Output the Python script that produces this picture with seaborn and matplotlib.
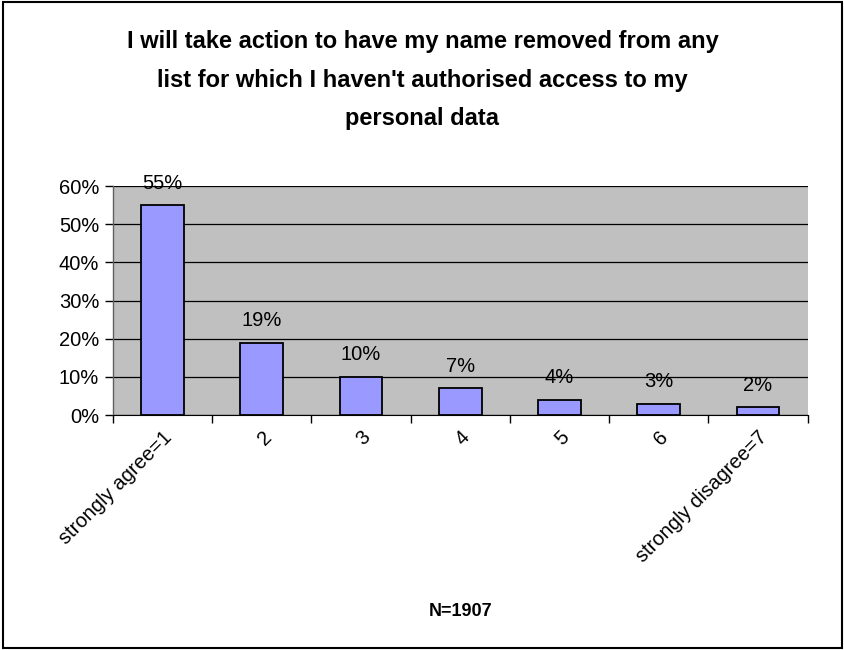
import matplotlib
matplotlib.use("Agg")
import matplotlib.pyplot as plt
import seaborn as sns
import pandas as pd
from matplotlib.patches import Rectangle
from matplotlib.ticker import FuncFormatter, MultipleLocator

categories = ["strongly agree=1", "2", "3", "4", "5", "6", "strongly disagree=7"]
shares = [55, 19, 10, 7, 4, 3, 2]
value_labels = ["55%", "19%", "10%", "7%", "4%", "3%", "2%"]

title = "I will take action to have my name removed from any\nlist for which I haven't authorised access to my\npersonal data"
xlabel = "N=1907"

sns.set_style("white")
plt.rcParams["font.family"] = ["Liberation Sans", "DejaVu Sans"]
for key in ["text.color", "axes.labelcolor", "xtick.color", "ytick.color"]:
    plt.rcParams[key] = "black"

df = pd.DataFrame({"category": categories, "share": shares})

fig = plt.figure(figsize=(8.45, 6.5), dpi=100)
ax = fig.add_axes([0.1337, 0.3615, 0.822, 0.3523])
ax.set_facecolor("#C0C0C0")

sns.barplot(data=df, x="category", y="share", color="#9999FF", width=0.43,
            edgecolor="black", linewidth=1.3, saturation=1, ax=ax, zorder=3)

ax.set_ylim(0, 60)
ax.set_xlim(-0.5, len(categories) - 0.5)
ax.yaxis.set_major_locator(MultipleLocator(10))
ax.yaxis.set_major_formatter(FuncFormatter(lambda v, p: f"{int(round(v))}%"))
ax.grid(axis="y", color="black", linewidth=0.9, zorder=1)
ax.set_axisbelow(True)

for side in ["top", "right"]:
    ax.spines[side].set_visible(False)
ax.spines["left"].set_color("#606060")
ax.spines["bottom"].set_color("black")
ax.spines["left"].set_linewidth(1.0)

# value labels above each bar
for i, (v, lab) in enumerate(zip(shares, value_labels)):
    ax.annotate(lab, (i, v), xytext=(0, 9), textcoords="offset points",
                ha="center", va="bottom", fontsize=14.5)

# x ticks sit on category boundaries; labels sit under category centres
ax.set_xticks([i - 0.5 for i in range(len(categories) + 1)], minor=False)
ax.set_xticklabels([])
ax.tick_params(axis="x", which="major", direction="out", length=6, width=1, color="black", bottom=True)
ax.set_xticks(range(len(categories)), minor=True)
ax.set_xticklabels(categories, minor=True, rotation=45, ha="right",
                   rotation_mode="anchor", fontsize=14.5)
ax.tick_params(axis="x", which="minor", length=0, pad=9)
ax.tick_params(axis="y", direction="out", length=6, width=1, color="black", left=True, labelsize=14.5, pad=4)

ax.set_xlabel(xlabel, fontsize=13, fontweight="bold")
ax.xaxis.set_label_coords(0.5, -0.86)
ax.xaxis.label.set_va("center")
ax.set_ylabel("")

fig.text(0.5, 1 - 80 / 650, title, ha="center", va="center", fontsize=17,
         fontweight="bold", linespacing=1.85)

fig.patches.append(Rectangle((0.003, 0.003), 0.994, 0.994, transform=fig.transFigure,
                             fill=False, edgecolor="black", linewidth=1.5))

fig.savefig("out.png", dpi=100)
